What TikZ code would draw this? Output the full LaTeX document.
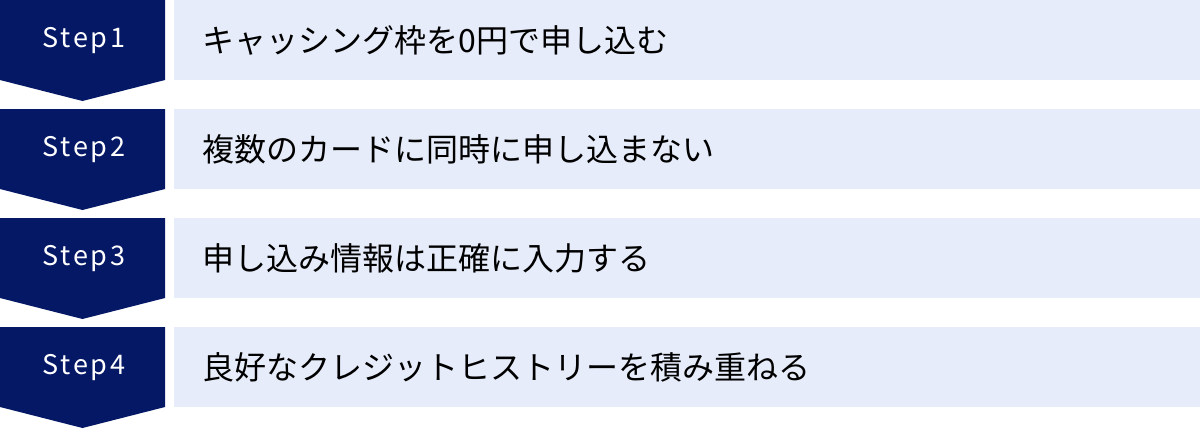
\documentclass[tikz,border=0pt]{standalone}
\usepackage{fontspec}
\setmainfont{Noto Sans CJK JP}
\newfontfamily\stepfont[LetterSpace=10]{Noto Sans CJK JP}
\definecolor{stepnavy}{HTML}{051865}
\definecolor{rowblue}{HTML}{E6ECF9}
\tikzset{
  steplabel/.style={text=white,font=\stepfont\fontsize{27}{27}\selectfont,anchor=center},
  rowlabel/.style={text=black,font=\fontsize{32}{32}\selectfont,anchor=west}
}
\begin{document}
\begin{tikzpicture}[x=1pt,y=-1pt]
\useasboundingbox (0,0) rectangle (1200,429);

% rows, 109 apart:
\foreach \n/\y/\txt in {1/0/キャッシング枠を0円で申し込む,2/109/複数のカードに同時に申し込まない,3/218/申し込み情報は正確に入力する,4/327/良好なクレジットヒストリーを積み重ねる}{
  \fill[stepnavy] (0,\y) -- (165,\y) -- (165,\y+80) -- (82.5,\y+101) -- (0,\y+80) -- cycle;
  \fill[rowblue] (174,\y) rectangle (1200,\y+80);
  \path (84,\y+41) node[steplabel] (step\n) {Step\n};
  \path (199,\y+40) node[rowlabel] (row\n) {\txt};
}

\end{tikzpicture}
\end{document}
